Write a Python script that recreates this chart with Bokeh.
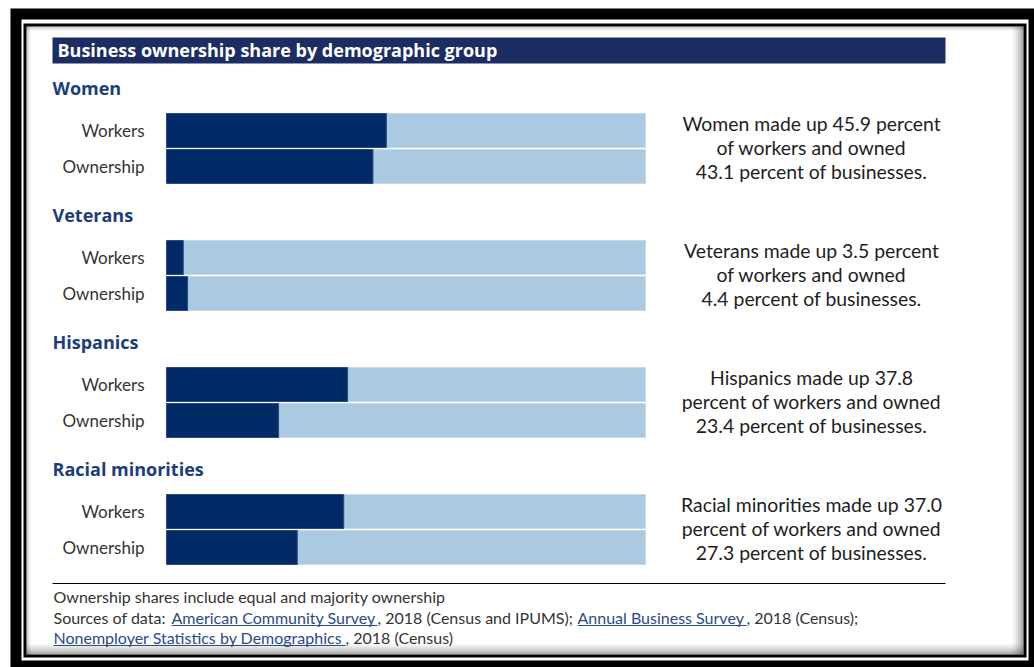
from bokeh.plotting import figure
from bokeh.models import Range1d
from bokeh.embed import file_html
from bokeh.resources import INLINE
from bokeh.core.properties import value

# ---------------- data ----------------
groups = ["Women", "Veterans", "Hispanics", "Racial minorities"]
measures = ["Workers", "Ownership"]
workers_share = [45.9, 3.5, 37.8, 37.0]
ownership_share = [43.1, 4.4, 23.4, 27.3]
notes = [
    ["Women made up 45.9 percent", "of workers and owned", "43.1 percent of businesses."],
    ["Veterans made up 3.5 percent", "of workers and owned", "4.4 percent of businesses."],
    ["Hispanics made up 37.8", "percent of workers and owned", "23.4 percent of businesses."],
    ["Racial minorities made up 37.0", "percent of workers and owned", "27.3 percent of businesses."],
]
title = "Business ownership share by demographic group"
footnote = "Ownership shares include equal and majority ownership"
source_prefix = "Sources of data: "
source_links = ["American Community Survey", "Annual Business Survey",
                "Nonemployer Statistics by Demographics"]
source_tails = [", 2018 (Census and IPUMS); ", ", 2018 (Census);", ", 2018 (Census)"]

# ---------------- layout ----------------
W, H = 1034, 667
BAR_L, BAR_R = 166, 645
SC = (BAR_R - BAR_L) / 100.0


def X(px):
    return (px - BAR_L) / SC


FONT = value("Lato")
BFONT = value("Open Sans")
p = figure(width=W, height=H, x_range=Range1d(X(0), X(W)), y_range=Range1d(H, 0),
           output_backend="svg", toolbar_location=None, x_axis_type=None, y_axis_type=None,
           min_border=0, outline_line_color=None, background_fill_color="white",
           border_fill_color="white")

# frame
p.quad(left=[X(10)], right=[X(W + 10)], top=[8], bottom=[H + 10], fill_color="black", line_color=None)
p.quad(left=[X(21)], right=[X(1028)], top=[19], bottom=[660], fill_color="white", line_color=None)
p.quad(left=[X(23)], right=[X(1026)], top=[23], bottom=[657], fill_color="black", line_color=None)
p.quad(left=[X(26)], right=[X(1023)], top=[26], bottom=[654], fill_color="white", line_color=None)

# inner shadow strips
sl, sr, st, sb, sa = [], [], [], [], []
for k in range(12):
    a = 0.38 * (1 - k / 12.0) ** 1.6
    sl.append(X(1022 - k)); sr.append(X(1023 - k)); st.append(26); sb.append(654); sa.append(a)
    sl.append(X(26)); sr.append(X(1023)); st.append(653 - k); sb.append(654 - k); sa.append(a)
for k in range(4):
    a = 0.2 * (1 - k / 4.0)
    sl.append(X(26 + k)); sr.append(X(27 + k)); st.append(26); sb.append(654); sa.append(a)
    sl.append(X(26)); sr.append(X(1023)); st.append(26 + k); sb.append(27 + k); sa.append(a)
p.quad(left=sl, right=sr, top=st, bottom=sb, fill_color="black", fill_alpha=sa, line_color=None)

# title bar
p.quad(left=[X(52)], right=[X(945)], top=[37], bottom=[63], fill_color="#1c2d64", line_color=None)
p.text(x=[X(57)], y=[49.5], text=[title], text_font=BFONT, text_font_style="bold",
       text_font_size="18px", text_color="white", text_align="left", text_baseline="middle")

DARK = "#012a66"
LIGHT = "#abc9e1"
ys_w, ys_o, hy, nx, ny, nt = [], [], [], [], [], []
for i, g in enumerate(groups):
    base = 87 + 127 * i
    hy.append(base)
    ys_w.append(base + 43)
    ys_o.append(base + 79)
    for j, line in enumerate(notes[i]):
        nx.append(X(811)); ny.append(base + 36 + 24 * j); nt.append(line)

# headings
p.text(x=[X(52)] * len(groups), y=hy, text=groups, text_font=BFONT, text_font_style="bold",
       text_font_size="18px", text_color="#1b3d7b", text_align="left", text_baseline="middle")

# bars
p.hbar(y=ys_w + ys_o, left=0, right=[100] * (2 * len(groups)), height=34,
       fill_color=LIGHT, line_color="#c4d9ea", line_width=1)
p.hbar(y=ys_w, left=0, right=workers_share, height=34, fill_color=DARK, line_color="#2a4a80", line_width=1)
p.hbar(y=ys_o, left=0, right=ownership_share, height=34, fill_color=DARK, line_color="#2a4a80", line_width=1)

# bar labels
p.text(x=[X(144)] * (2 * len(groups)), y=ys_w + ys_o,
       text=[measures[0]] * len(groups) + [measures[1]] * len(groups),
       text_font=FONT, text_font_size="17px", text_color="#333333",
       text_align="right", text_baseline="middle")

# notes
p.text(x=nx, y=ny, text=nt, text_font=FONT, text_font_size="19.4px", text_color="#1e1e1e",
       text_align="center", text_baseline="middle")

# footer
p.segment(x0=[X(52)], y0=[583], x1=[X(945)], y1=[583], line_color="black", line_width=1)
FS = "16px"
TXT = "#333333"
LINK = "#2a4a8a"
p.text(x=[X(53)], y=[596], text=[footnote], text_font=FONT, text_font_size=FS,
       text_color=TXT, text_align="left", text_baseline="middle")
plain_x = [X(53), X(377), X(746), X(345)]
plain_y = [617, 617, 617, 637]
plain_t = [source_prefix, source_tails[0], source_tails[1], source_tails[2]]
p.text(x=plain_x, y=plain_y, text=plain_t, text_font=FONT, text_font_size=FS,
       text_color=TXT, text_align="left", text_baseline="middle")
link_x0 = [X(171), X(577), X(53)]
link_x1 = [X(377), X(746), X(345)]
link_y = [617, 617, 637]
p.text(x=link_x0, y=link_y, text=source_links, text_font=FONT, text_font_size=FS,
       text_color=LINK, text_align="left", text_baseline="middle")
p.segment(x0=link_x0, y0=[y + 8 for y in link_y], x1=link_x1, y1=[y + 8 for y in link_y],
          line_color=LINK, line_width=1)

open("out.html", "w").write(file_html(p, INLINE))
